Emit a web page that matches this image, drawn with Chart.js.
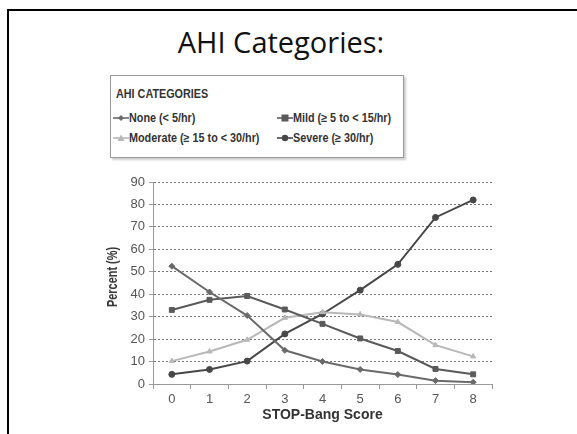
<!DOCTYPE html>
<html>
<head>
<meta charset="utf-8">
<script src="https://cdn.jsdelivr.net/npm/chart.js@4/dist/chart.umd.min.js"></script>
<style>
  html, body { margin: 0; padding: 0; background: #fff; }
  body { width: 577px; height: 434px; position: relative; overflow: hidden; }
  #frame { position: absolute; left: 7px; top: 9px; width: 600px; height: 460px;
           border-left: 2px solid #000; border-top: 2px solid #000; }
  #title { position: absolute; left: 0; width: 562px; top: 27px; text-align: center; line-height: 29px;
           font-family: "Open Sans", sans-serif; font-size: 29px; color: #111; }
  #legendBox { position: absolute; left: 110px; top: 75px; width: 292px; height: 81px;
               border: 1px solid #999; box-shadow: 2px 2px 2px #ccc;
               font-family: "Liberation Sans", Arial, sans-serif;
               font-weight: bold; color: #333; font-size: 12px; }
  #legendBox .hd { position: absolute; left: 5px; top: 11px; transform: scaleX(0.9); transform-origin: left center; }
  #legendBox .it { position: absolute; display: flex; align-items: center; white-space: nowrap; }
  #legendBox .it span { display: inline-block; transform: scaleX(0.9); transform-origin: left center; }
  #ytitle { position: absolute; left: 112px; top: 277px; white-space: nowrap;
            font-family: "Liberation Sans", Arial, sans-serif; font-weight: bold; font-size: 14px; color: #333;
            transform: translate(-50%, -50%) rotate(-90deg) scaleX(0.78); }
  #wrap { position: absolute; left: 0; top: 0; width: 577px; height: 434px; }
</style>
</head>
<body>
<div id="frame"></div>
<div id="title">AHI Categories:</div>
<div id="legendBox"><div class="hd">AHI CATEGORIES</div></div>
<div id="wrap"><canvas id="chart" width="577" height="434"></canvas></div>
<div id="ytitle">Percent (%)</div>
<script>
// data
const scores = ["0", "1", "2", "3", "4", "5", "6", "7", "8"];
const seriesNames = ["None (< 5/hr)", "Mild (\u2265 5 to < 15/hr)", "Moderate (\u2265 15 to < 30/hr)", "Severe (\u2265 30/hr)"];
const noneVals = [52.5, 41, 30.5, 15, 10, 6.5, 4.2, 1.5, 0.8];
const mildVals = [33, 37.5, 39.2, 33.2, 26.8, 20.3, 14.7, 6.7, 4.3];
const moderateVals = [10.2, 14.5, 19.7, 29.5, 32, 31, 27.6, 17.3, 12.3];
const severeVals = [4.3, 6.5, 10.2, 22.3, 31.2, 41.8, 53.3, 74.2, 82];
const yTicks = [0, 10, 20, 30, 40, 50, 60, 70, 80, 90];

const colors = ["#6a6a6a", "#5a5a5a", "#b8b8b8", "#474747"];
const shapes = ["rectRot", "rect", "triangle", "circle"];
const allVals = [noneVals, mildVals, moderateVals, severeVals];

const datasets = allVals.map((vals, i) => ({
  label: seriesNames[i],
  data: vals,
  borderColor: colors[i],
  backgroundColor: colors[i],
  borderWidth: 2,
  pointStyle: shapes[i],
  pointRadius: shapes[i] === "rect" ? 3.5 : 3,
  pointBorderWidth: 1,
  tension: 0
}));

// html legend in the boxed panel
const legendBox = document.getElementById("legendBox");
const legendPos = [[2, 35], [166, 35], [2, 55], [166, 55]];
const markerSvg = {
  rectRot: '<path d="M7 2 L10 5 L7 8 L4 5 Z"/>',
  rect: '<rect x="3.5" y="1.5" width="7" height="7"/>',
  triangle: '<path d="M7 1.5 L10.5 8 L3.5 8 Z"/>',
  circle: '<circle cx="7" cy="5" r="3.2"/>'
};
datasets.forEach((ds, i) => {
  const it = document.createElement("div");
  it.className = "it";
  it.style.left = legendPos[i][0] + "px";
  it.style.top = legendPos[i][1] + "px";
  it.innerHTML = `<svg width="16" height="10" fill="${ds.borderColor}">
      <line x1="0" y1="5" x2="16" y2="5" stroke="${ds.borderColor}" stroke-width="1.6"/>
      <g transform="translate(1,0)">${markerSvg[ds.pointStyle]}</g></svg><span>${ds.label}</span>`;
  legendBox.appendChild(it);
});

const tickFont = { family: "'Liberation Sans', Arial, sans-serif", size: 13 };

new Chart(document.getElementById("chart"), {
  type: "line",
  data: { labels: scores, datasets },
  options: {
    responsive: false,
    animation: false,
    layout: { padding: { left: 100, top: 182, right: 85, bottom: 6 } },
    plugins: { legend: { display: false }, tooltip: { enabled: false } },
    scales: {
      x: {
        offset: true,
        grid: { offset: true, drawOnChartArea: false, drawTicks: true, tickLength: 5, color: "#999" },
        border: { color: "#999", width: 1 },
        ticks: { color: "#555", font: tickFont, padding: 3 },
        title: { display: true, text: "STOP-Bang Score", color: "#333",
                 font: { family: tickFont.family, size: 14, weight: "bold" }, padding: { top: 11 } },
        afterFit: s => { s.height = 44; }
      },
      y: {
        min: 0, max: 90,
        afterBuildTicks: s => { s.ticks = yTicks.map(v => ({ value: v })); },
        grid: { color: "#777", tickColor: "#999", tickLength: 4, tickBorderDash: [] },
        border: { display: true, color: "#999", width: 1, dash: [2, 2] },
        ticks: { color: "#555", font: tickFont, padding: 4 },
        afterFit: s => { s.width = 53; }
      }
    }
  }
});
</script>
</body>
</html>
